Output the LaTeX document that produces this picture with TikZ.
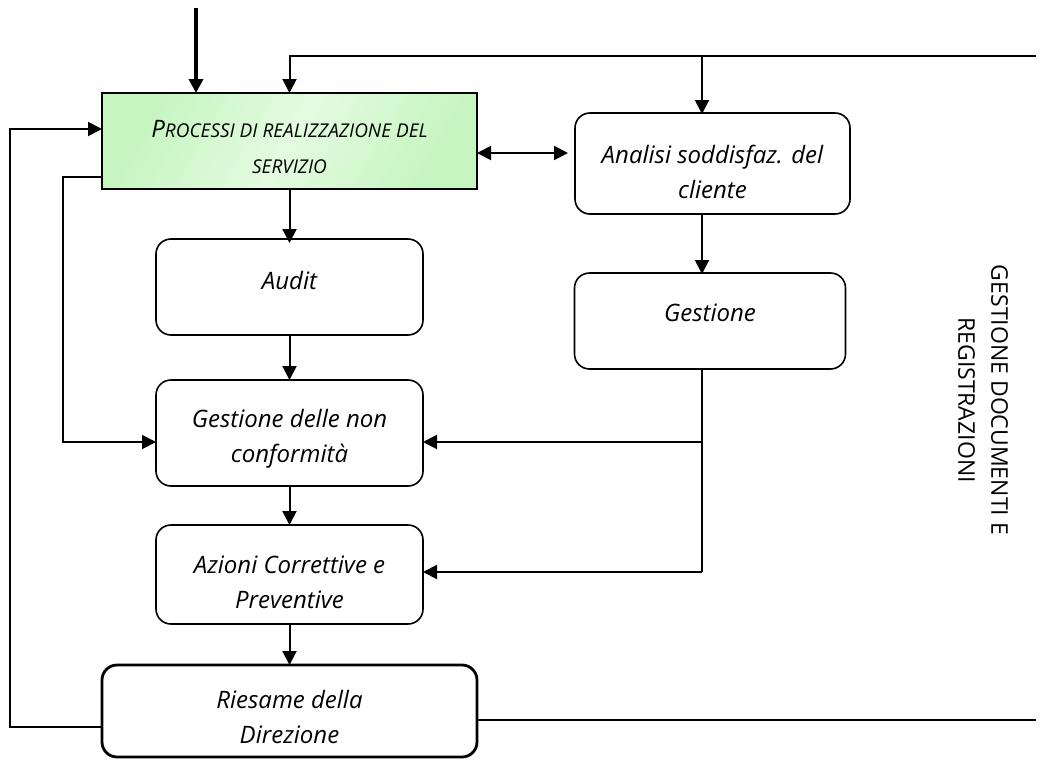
\documentclass[tikz,border=0pt]{standalone}
\usepackage{fontspec}
\setmainfont{Open Sans}
\usetikzlibrary{arrows.meta}
\definecolor{gA}{HTML}{C6F5C0}
\definecolor{gB}{HTML}{E4FBE1}
\newcommand\fsc[2]{#1{\fontsize{19}{36}\selectfont #2}}
\begin{document}
\begin{tikzpicture}[x=1pt,y=-1pt,
  every node/.style={inner sep=0pt,outer sep=0pt},
  box/.style={draw,line width=1.6pt,rounded corners=15pt},
  procbox/.style={draw,line width=1.6pt,left color=gA,right color=gA,middle color=gB,shading angle=60},
  txt/.style={align=center,font=\fontsize{24}{35}\selectfont\itshape},
  conn/.style={line width=2pt},
  arr/.style={line width=2pt,-{Triangle[length=14pt,width=14pt]}},
  darr/.style={line width=2pt,{Triangle[length=14pt,width=14pt]}-{Triangle[length=14pt,width=14pt]}}
]
\useasboundingbox (0,0) rectangle (1059,760);

\node[procbox,minimum width=375pt,minimum height=96pt] (proc) at (289.5,141) {};
\node[box,minimum width=275pt,minimum height=101pt] (ana) at (712.5,163.5) {};
\node[box,minimum width=267pt,minimum height=96pt] (audit) at (289.5,287) {};
\node[box,minimum width=271pt,minimum height=96pt] (gest) at (710,321) {};
\node[box,minimum width=267pt,minimum height=106pt] (gnc) at (289.5,433) {};
\node[box,minimum width=267pt,minimum height=99pt] (az) at (289.5,574.5) {};
\node[box,line width=2.8pt,minimum width=375pt,minimum height=92pt] (ries) at (289.5,711) {};

\node[txt,font=\fontsize{24}{36}\selectfont\itshape] (procT) at ([yshift=-6pt]proc.center)
  {\fsc{P}{ROCESSI DI REALIZZAZIONE DEL}\\ {\fontsize{19}{36}\selectfont SERVIZIO}};
\node[txt] (anaT) at ([yshift=-8pt]ana.center) {Analisi soddisfaz. del\\cliente};
\node[txt] (auditT) at ([yshift=7pt]audit.center) {Audit};
\node[txt] (gestT) at ([yshift=8pt]gest.center) {Gestione};
\node[txt] (gncT) at ([yshift=-6pt]gnc.center) {Gestione delle non\\conformità};
\node[txt] (azT) at ([yshift=-8pt]az.center) {Azioni Correttive e\\Preventive};
\node[txt] (riesT) at ([yshift=-6pt]ries.center) {Riesame della\\Direzione};
\node[rotate=-90,align=center,font=\fontsize{23}{33}\selectfont] (doc) at (983,400)
  {GESTIONE DOCUMENTI E\\REGISTRAZIONI};

% coordinates
\coordinate (in) at (196,8);
\coordinate (tr) at (1036,56);
\coordinate (tl) at (289.5,56);
\coordinate (bj) at (702,56);
\coordinate (dd) at (0,153);
\coordinate (j1) at (702,442);
\coordinate (j2) at (702,572);
\coordinate (l1) at (10,727);
\coordinate (l2) at (10,129);
\coordinate (m1) at (63,177);
\coordinate (m2) at (63,442);
\coordinate (r1) at (1036,720);

% connectors
\draw[arr,line width=3.5pt] (in) -- (in |- proc.north);
\draw[arr] (tr) -- (tl) -- (proc.north);
\draw[arr] (bj) -- ([yshift=-1pt]bj |- ana.north);
\draw[darr] (proc.east |- dd) -- ([xshift=-7pt]ana.west |- dd);
\draw[arr] (proc.south) -- ([yshift=-4pt]audit.north);
\draw[arr] (audit.south) -- (gnc.north);
\draw[arr] (gnc.south) -- (az.north);
\draw[arr] (az.south) -- (ries.north);
\draw[arr] (bj |- ana.south) -- ([yshift=-1pt]bj |- gest.north);
\draw[conn] (bj |- gest.south) -- (j2);
\draw[arr] (j1) -- (gnc.east |- j1);
\draw[arr] (j2) -- (az.east |- j2);
\draw[arr] (ries.west |- l1) -- (l1) -- (l2) -- (proc.west |- l2);
\draw[arr] (proc.west |- m1) -- (m1) -- (m2) -- (gnc.west |- m2);
\draw[conn] (ries.east |- r1) -- (r1);
\end{tikzpicture}
\end{document}
